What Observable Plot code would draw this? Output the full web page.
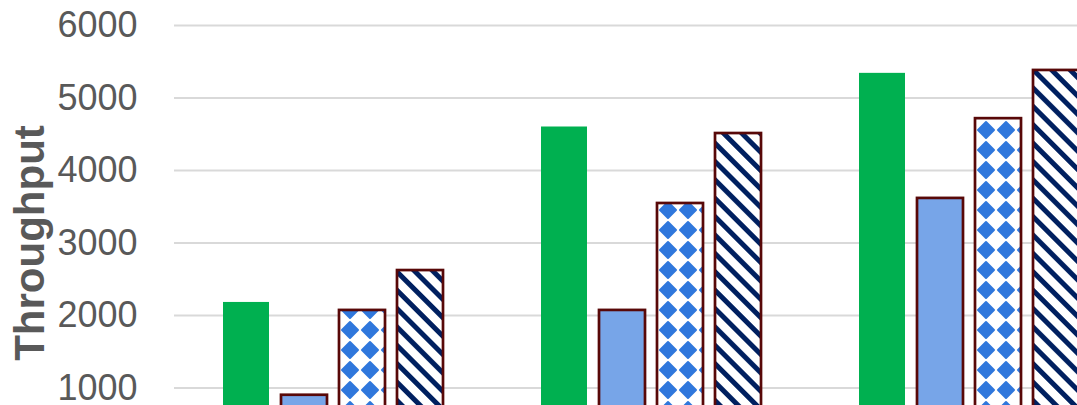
<!DOCTYPE html>
<html><head><meta charset="utf-8">
<script src="https://cdn.jsdelivr.net/npm/d3@7"></script>
<script src="https://cdn.jsdelivr.net/npm/@observablehq/plot@0.6"></script>
<style>html,body{margin:0;padding:0;overflow:hidden;background:#fff;}</style>
</head><body><div id="chart"></div>
<script>
// Data
const groups = ["Group 1", "Group 2", "Group 3"];
const series = ["Series 1", "Series 2", "Series 3", "Series 4"];
const series1 = [2180, 4600, 5340];
const series2 = [900, 2070, 3615];
const series3 = [2070, 3545, 4715];
const series4 = [2620, 4510, 5380];
const yTicks = [1000, 2000, 3000, 4000, 5000, 6000];
const yLabel = "Throughput";

const values = [series1, series2, series3, series4];
const data = groups.flatMap((g, i) => series.map((s, j) => ({group: g, series: s, value: values[j][i]})));

const fills = {
  "Series 1": "#00b050",
  "Series 2": "#77a5e8",
  "Series 3": "url(#pat-diamond)",
  "Series 4": "url(#pat-stripe)"
};
const strokes = {
  "Series 1": "none",
  "Series 2": "#580808",
  "Series 3": "#580808",
  "Series 4": "#580808"
};

const chart = Plot.plot({
  width: 1077, height: 405,
  marginLeft: 174, marginRight: -51, marginTop: 0, marginBottom: 0,
  style: {fontFamily: "'Liberation Sans', Arial, sans-serif", color: "#595959", background: "#fff", overflow: "hidden"},
  fx: {domain: groups, padding: 0, axis: null},
  x: {domain: series, paddingInner: 0.2069, paddingOuter: 0.8448, axis: null},
  y: {domain: [0, 6000], range: [460, 25], axis: null},
  color: {type: "identity"},
  marks: [
    Plot.gridY(yTicks, {stroke: "#d9d9d9", strokeOpacity: 1, strokeWidth: 2}),
    Plot.barY(data, {fx: "group", x: "series", y: "value",
      fill: d => fills[d.series], stroke: d => strokes[d.series], strokeWidth: 2.7}),
    Plot.axisY(yTicks, {tickSize: 0, tickPadding: 37, fontSize: 36, tickFormat: d => String(d), label: null}),
    Plot.text([{group: groups[0], t: yLabel}], {fx: "group", text: "t", frameAnchor: "left",
      dx: -131, dy: 40, rotate: -90, fontSize: 42, fontWeight: "bold",
      textAnchor: "middle", lineAnchor: "bottom", fill: "#595959"})
  ]
});

// SVG fill patterns for the hatched series
const defs = d3.select(chart).insert("defs", ":first-child");
const pd = defs.append("pattern").attr("id", "pat-diamond").attr("patternUnits", "userSpaceOnUse")
  .attr("width", 20).attr("height", 20);
pd.append("rect").attr("width", 20).attr("height", 20).attr("fill", "#fff");
pd.append("path").attr("d", "M10,2 L18,10 L10,18 L2,10Z").attr("fill", "#2f77dc")
  .attr("stroke", "#2f77dc").attr("stroke-width", 2).attr("stroke-linejoin", "round");
const ps = defs.append("pattern").attr("id", "pat-stripe").attr("patternUnits", "userSpaceOnUse")
  .attr("width", 13).attr("height", 13).attr("patternTransform", "rotate(45)");
ps.append("rect").attr("width", 13).attr("height", 13).attr("fill", "#fff");
ps.append("rect").attr("width", 13).attr("height", 5).attr("fill", "#002060");

document.getElementById("chart").appendChild(chart);
</script>
</body></html>
